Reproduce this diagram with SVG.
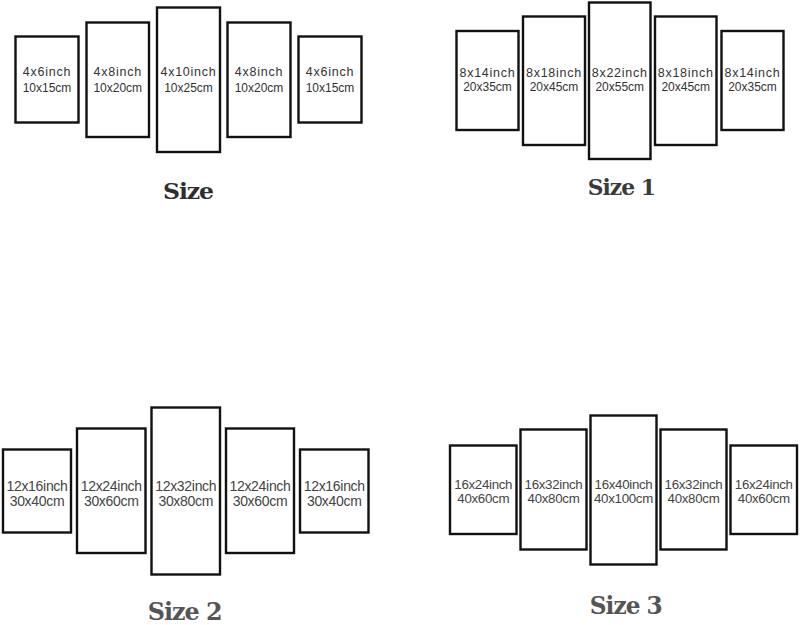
<svg xmlns="http://www.w3.org/2000/svg" width="800" height="625" viewBox="0 0 800 625">
<style>
.p{fill:#fff;stroke:#111;stroke-width:2.4}
.a{font-family:"Liberation Sans",Arial,sans-serif;fill:#333;text-anchor:middle}
.a1{font-size:12.5px;letter-spacing:0.75px}
.a2{font-size:12px;letter-spacing:0px}
.b{font-family:"Liberation Sans",Arial,sans-serif;fill:#444;text-anchor:middle;font-size:14px;letter-spacing:-0.3px}
.b3{font-size:13.3px}
.t{font-family:"DejaVu Serif","Liberation Serif",serif;font-weight:bold;text-anchor:middle;letter-spacing:-1px}
</style>
<rect width="800" height="625" fill="#fff"/>
<g id="size">
<g id="s0p1"><rect class="p" x="15.5" y="36.5" width="63" height="86"/><text class="a a1" x="47" y="76">4x6inch</text><text class="a a2" x="47" y="91.5">10x15cm</text></g>
<g id="s0p2"><rect class="p" x="86.5" y="22.5" width="62.5" height="114.5"/><text class="a a1" x="117.75" y="76">4x8inch</text><text class="a a2" x="117.75" y="91.5">10x20cm</text></g>
<g id="s0p3"><rect class="p" x="157" y="7.5" width="63" height="144.5"/><text class="a a1" x="188.5" y="76">4x10inch</text><text class="a a2" x="188.5" y="91.5">10x25cm</text></g>
<g id="s0p4"><rect class="p" x="227.5" y="22.5" width="63" height="114.5"/><text class="a a1" x="259" y="76">4x8inch</text><text class="a a2" x="259" y="91.5">10x20cm</text></g>
<g id="s0p5"><rect class="p" x="298.5" y="36.5" width="63" height="86"/><text class="a a1" x="330" y="76">4x6inch</text><text class="a a2" x="330" y="91.5">10x15cm</text></g>
<text class="t" x="188" y="199" font-size="22" fill="#2e2e2e" textLength="50" lengthAdjust="spacingAndGlyphs">Size</text>
</g>
<g id="size1">
<g id="s1p1"><rect class="p" x="456.5" y="31" width="62" height="99"/><text class="a a1" x="487.5" y="77">8x14inch</text><text class="a a2" x="487.5" y="91">20x35cm</text></g>
<g id="s1p2"><rect class="p" x="523" y="16.5" width="62" height="128.5"/><text class="a a1" x="554" y="77">8x18inch</text><text class="a a2" x="554" y="91">20x45cm</text></g>
<g id="s1p3"><rect class="p" x="589" y="2.5" width="61.5" height="156.5"/><text class="a a1" x="619.75" y="77">8x22inch</text><text class="a a2" x="619.75" y="91">20x55cm</text></g>
<g id="s1p4"><rect class="p" x="655" y="16.5" width="61.5" height="128.5"/><text class="a a1" x="685.75" y="77">8x18inch</text><text class="a a2" x="685.75" y="91">20x45cm</text></g>
<g id="s1p5"><rect class="p" x="721.5" y="31" width="62" height="99"/><text class="a a1" x="752.5" y="77">8x14inch</text><text class="a a2" x="752.5" y="91">20x35cm</text></g>
<text class="t" x="621.3" y="195" font-size="21.5" fill="#3a3a3a" textLength="67" lengthAdjust="spacingAndGlyphs">Size 1</text>
</g>
<g id="size2">
<g id="s2p1"><rect class="p" x="3" y="449.5" width="68" height="83"/><text class="b" x="37" y="490.5">12x16inch</text><text class="b" x="37" y="505.5">30x40cm</text></g>
<g id="s2p2"><rect class="p" x="77" y="428.5" width="68.5" height="124.5"/><text class="b" x="111.25" y="490.5">12x24inch</text><text class="b" x="111.25" y="505.5">30x60cm</text></g>
<g id="s2p3"><rect class="p" x="151.5" y="407.5" width="68.5" height="167"/><text class="b" x="185.75" y="490.5">12x32inch</text><text class="b" x="185.75" y="505.5">30x80cm</text></g>
<g id="s2p4"><rect class="p" x="226" y="428.5" width="68" height="124.5"/><text class="b" x="260" y="490.5">12x24inch</text><text class="b" x="260" y="505.5">30x60cm</text></g>
<g id="s2p5"><rect class="p" x="300" y="449.5" width="68.5" height="83"/><text class="b" x="334.25" y="490.5">12x16inch</text><text class="b" x="334.25" y="505.5">30x40cm</text></g>
<text class="t" x="184.7" y="619.5" font-size="24.5" fill="#555" textLength="74" lengthAdjust="spacingAndGlyphs">Size 2</text>
</g>
<g id="size3">
<g id="s3p1"><rect class="p" x="450" y="445.5" width="66.5" height="88.5"/><text class="b b3" x="483.25" y="488.5">16x24inch</text><text class="b b3" x="483.25" y="502.5">40x60cm</text></g>
<g id="s3p2"><rect class="p" x="520.5" y="429.5" width="66" height="120"/><text class="b b3" x="553.5" y="488.5">16x32inch</text><text class="b b3" x="553.5" y="502.5">40x80cm</text></g>
<g id="s3p3"><rect class="p" x="590.5" y="415.5" width="66" height="149"/><text class="b b3" x="623.5" y="488.5">16x40inch</text><text class="b b3" x="623.5" y="502.5">40x100cm</text></g>
<g id="s3p4"><rect class="p" x="660.5" y="429.5" width="66" height="120"/><text class="b b3" x="693.5" y="488.5">16x32inch</text><text class="b b3" x="693.5" y="502.5">40x80cm</text></g>
<g id="s3p5"><rect class="p" x="730.5" y="445.5" width="66.5" height="88.5"/><text class="b b3" x="763.75" y="488.5">16x24inch</text><text class="b b3" x="763.75" y="502.5">40x60cm</text></g>
<text class="t" x="625.8" y="614" font-size="24" fill="#555" textLength="72" lengthAdjust="spacingAndGlyphs">Size 3</text>
</g>
</svg>
